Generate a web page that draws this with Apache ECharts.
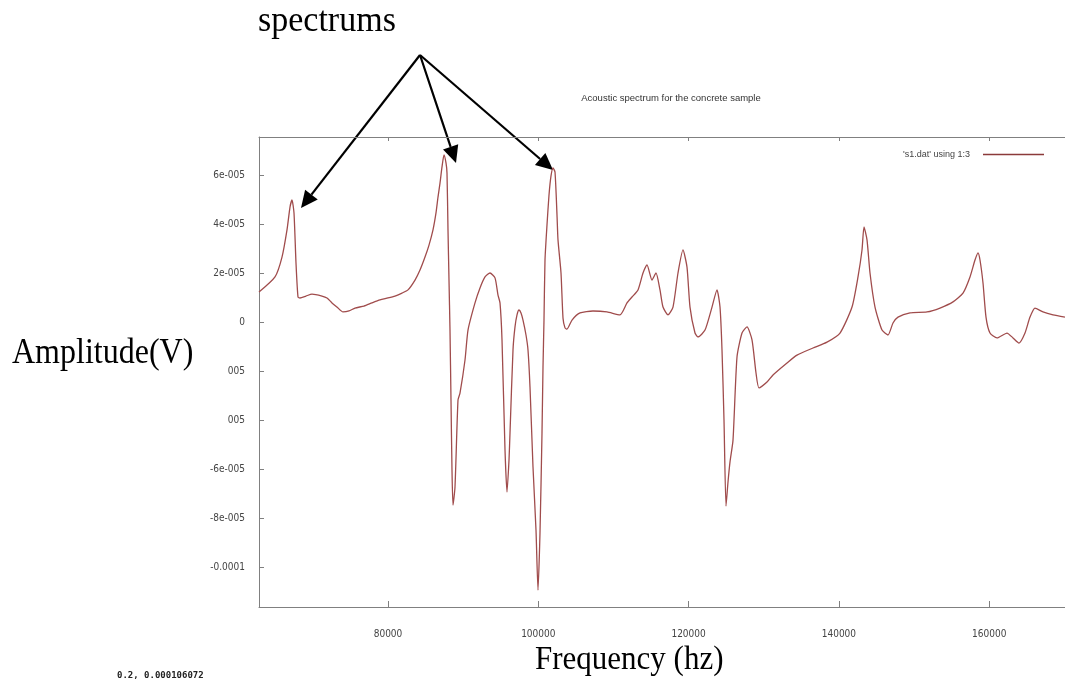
<!DOCTYPE html>
<html>
<head>
<meta charset="utf-8">
<title>Acoustic spectrum</title>
<script src="https://cdn.jsdelivr.net/npm/echarts@6/dist/echarts.min.js"></script>
<style>
    html, body {margin: 0; padding: 0; background: #fff;}
    #main {width: 1065px; height: 691px;}
</style>
</head>
<body>
<div id="main"></div>
<script>
// frequency (Hz) and amplitude (in 1e-6 V)
var freq = [62834, 64963, 65894, 66560, 66959, 67225, 67491, 67757, 68024, 68290,
    69088, 69887, 71217, 71883, 72548, 73213, 74012, 74810, 75609, 76806,
    77871, 78935, 80000, 80931, 81863, 82661, 83593, 84258, 84924, 85456,
    85988, 86387, 86654, 86920, 87186, 87452, 87718, 87851, 87984, 88117,
    88250, 88383, 88516, 88649, 88916, 89315, 89581, 90247, 90646, 91577,
    92243, 92908, 93573, 94239, 94638, 94904, 95171, 95570, 95836, 96102,
    96235, 96634, 96900, 97167, 97433, 97699, 97965, 98364, 98630, 98896,
    99295, 99694, 99960, 100226, 100493, 100626, 100759, 100892, 101158, 101425,
    101691, 101957, 102223, 102489, 102622, 103022, 103288, 103554, 103820, 104486,
    105550, 107280, 109143, 110873, 111805, 112470, 113268, 113934, 114466, 115131,
    115664, 116196, 116595, 117260, 117925, 118591, 119256, 119788, 120187, 120853,
    121252, 122184, 123115, 123781, 124180, 124446, 124712, 124978, 125245, 125511,
    125910, 126442, 127108, 127773, 128438, 128971, 129370, 130435, 131233, 133096,
    134427, 136556, 138419, 140149, 141746, 142544, 143076, 143342, 143742, 144141,
    144806, 145738, 146535, 147201, 147866, 149463, 151725, 153455, 155185, 156516,
    157447, 158113, 158512, 158778, 159177, 159576, 160108, 161040, 162371, 163169,
    163968, 164766, 165431, 166097, 167161, 168492, 170089];
var amp = [12.2, 18.4, 26.5, 37.6, 46.9, 49.8, 44.5, 24.1, 10.2, 9.8,
    10.6, 11.4, 10.6, 9.8, 7.8, 6.1, 4.1, 4.5, 5.7, 6.5,
    7.8, 9.0, 9.8, 10.6, 11.8, 13.1, 17.1, 21.2, 26.5, 31.4,
    37.6, 44.5, 51.0, 56.7, 63.3, 68.2, 64.9, 60.8, 37.6, 17.1,
    -3.3, -31.8, -60.4, -74.7, -67.3, -31.8, -29.0, -15.5, -3.3, 7.8,
    13.9, 18.4, 20.0, 18.0, 11.0, 7.8, -7.3, -52.2, -69.4, -56.3,
    -45.3, -11.4, -2.0, 2.9, 4.9, 3.7, 0.8, -5.3, -11.4, -26.5,
    -59.2, -84.9, -109.4, -86.1, -45.3, -18.4, 0.8, 25.3, 39.6, 51.8,
    59.6, 62.9, 61.2, 43.7, 33.5, 20.0, 1.6, -2.4, -2.9, 0.8,
    3.7, 4.5, 4.1, 2.9, 7.8, 10.2, 13.1, 20.0, 23.3, 17.1,
    20.0, 13.1, 6.1, 2.9, 6.1, 20.0, 29.4, 22.4, 6.1, -4.5,
    -6.1, -3.3, 6.1, 13.1, 6.1, -11.4, -40.0, -75.1, -65.3, -57.1,
    -48.2, -14.3, -4.5, -2.0, -7.3, -20.8, -26.9, -24.5, -21.6, -16.7,
    -13.5, -10.6, -8.2, -4.5, 6.1, 18.4, 29.4, 38.8, 33.5, 20.0,
    6.1, -3.3, -5.3, -0.4, 2.0, 3.7, 4.1, 5.7, 8.2, 11.8,
    18.4, 25.3, 28.2, 25.3, 15.9, 2.0, -4.5, -6.5, -4.5, -6.5,
    -8.6, -4.5, 2.0, 5.7, 4.1, 2.9, 2.0];

var xTicks = [80000, 100000, 120000, 140000, 160000];
var yTicks = [6e-5, 4e-5, 2e-5, 0, -2e-5, -4e-5, -6e-5, -8e-5, -1e-4];
// the -2e-005 / -4e-005 labels are half hidden behind "Amplitude(V)" in the original
var yTickLabels = ['6e-005', '4e-005', '2e-005', '0', '005', '005', '-6e-005', '-8e-005', '-0.0001'];

// points the "spectrums" arrows aim at (freq, amplitude in 1e-6 V)
var arrowTargets = [[68423, 46.5], [89049, 64.9], [101957, 62.0]];

var seriesData = freq.map(function (f, i) {
    return [f, amp[i] * 1e-6];
});

var tickFont = {fontFamily: "'Liberation Sans Narrow', 'DejaVu Sans Condensed', 'Liberation Sans', sans-serif", fontSize: 10, color: '#444'};
var axisGray = '#808080';

var myChart = echarts.init(document.getElementById('main'), null, {renderer: 'canvas'});
myChart.setOption({
    backgroundColor: '#fff',
    animation: false,
    grid: {left: 259, right: 0, top: 137, bottom: 84, containLabel: false},
    legend: {
        right: 21,
        top: 150,
        padding: 0,
        align: 'right',
        icon: 'rect',
        itemWidth: 61,
        itemHeight: 1.5,
        itemGap: 0,
        textStyle: {fontFamily: 'Liberation Sans, sans-serif', fontSize: 9, color: '#444', padding: [0, 8, 0, 0]},
        itemStyle: {color: '#8b3a3a'},
        data: ["'s1.dat' using 1:3"]
    },
    xAxis: [{
        type: 'value',
        min: 62834,
        max: 170089,
        position: 'bottom',
        axisLine: {show: true, onZero: false, lineStyle: {color: axisGray, width: 1}},
        axisTick: {show: true, inside: true, length: 6, customValues: xTicks, lineStyle: {color: axisGray}},
        axisLabel: Object.assign({show: true, margin: 22, customValues: xTicks,
            formatter: function (v) { return String(v); }}, tickFont),
        splitLine: {show: false}
    }, {
        type: 'value',
        min: 62834,
        max: 170089,
        position: 'top',
        axisLine: {show: true, onZero: false, lineStyle: {color: axisGray, width: 1}},
        axisTick: {show: true, inside: true, length: 4, customValues: xTicks, lineStyle: {color: axisGray}},
        axisLabel: {show: false},
        splitLine: {show: false}
    }],
    yAxis: {
        type: 'value',
        min: -116.3e-6,
        max: 75.5e-6,
        axisLine: {show: true, onZero: false, lineStyle: {color: axisGray, width: 1}},
        axisTick: {show: true, inside: true, length: 5, customValues: yTicks, lineStyle: {color: axisGray}},
        axisLabel: Object.assign({show: true, margin: 14, customValues: yTicks,
            formatter: function (v) {
                var best = 0;
                for (var i = 0; i < yTicks.length; i++) {
                    if (Math.abs(yTicks[i] - v) < Math.abs(yTicks[best] - v)) best = i;
                }
                return yTickLabels[best];
            }}, tickFont),
        splitLine: {show: false}
    },
    series: [{
        name: "'s1.dat' using 1:3",
        type: 'line',
        xAxisIndex: 0,
        symbol: 'none',
        smooth: 0.2,
        lineStyle: {color: '#a04c4c', width: 1.3},
        itemStyle: {color: '#8b3a3a'},
        data: seriesData
    }]
});

// annotation text and arrows
var serif = "'Liberation Serif', 'Times New Roman', serif";
var graphics = [
    {type: 'text', x: 258, y: 22, scaleY: 1.05, style: {text: 'spectrums', font: '34px ' + serif, fill: '#000', verticalAlign: 'middle'}},
    {type: 'text', x: 671, y: 98, style: {text: 'Acoustic spectrum for the concrete sample', font: '9.5px Liberation Sans, sans-serif', fill: '#333', align: 'center', verticalAlign: 'middle'}},
    {type: 'text', x: 12, y: 354, scaleY: 1.12, style: {text: 'Amplitude(V)', font: '32px ' + serif, fill: '#000', verticalAlign: 'middle'}},
    {type: 'text', x: 535, y: 660, scaleY: 1.12, style: {text: 'Frequency (hz)', font: '31px ' + serif, fill: '#000', verticalAlign: 'middle'}},
    {type: 'text', x: 117, y: 676, style: {text: '0.2, 0.000106072', font: 'bold 9px DejaVu Sans Mono, monospace', fill: '#222', verticalAlign: 'middle'}}
];

var start = [420, 55];
arrowTargets.forEach(function (t) {
    var tip = myChart.convertToPixel({xAxisIndex: 0, yAxisIndex: 0}, [t[0], t[1] * 1e-6]);
    var dx = tip[0] - start[0], dy = tip[1] - start[1];
    var len = Math.sqrt(dx * dx + dy * dy);
    var ux = dx / len, uy = dy / len;
    var headLen = 17, headHalf = 8;
    var bx = tip[0] - ux * headLen, by = tip[1] - uy * headLen;
    graphics.push({
        type: 'line',
        shape: {x1: start[0], y1: start[1], x2: bx, y2: by},
        style: {stroke: '#000', lineWidth: 2.2}
    });
    graphics.push({
        type: 'polygon',
        shape: {points: [tip, [bx - uy * headHalf, by + ux * headHalf], [bx + uy * headHalf, by - ux * headHalf]]},
        style: {fill: '#000'}
    });
});

myChart.setOption({graphic: graphics});
</script>
</body>
</html>
